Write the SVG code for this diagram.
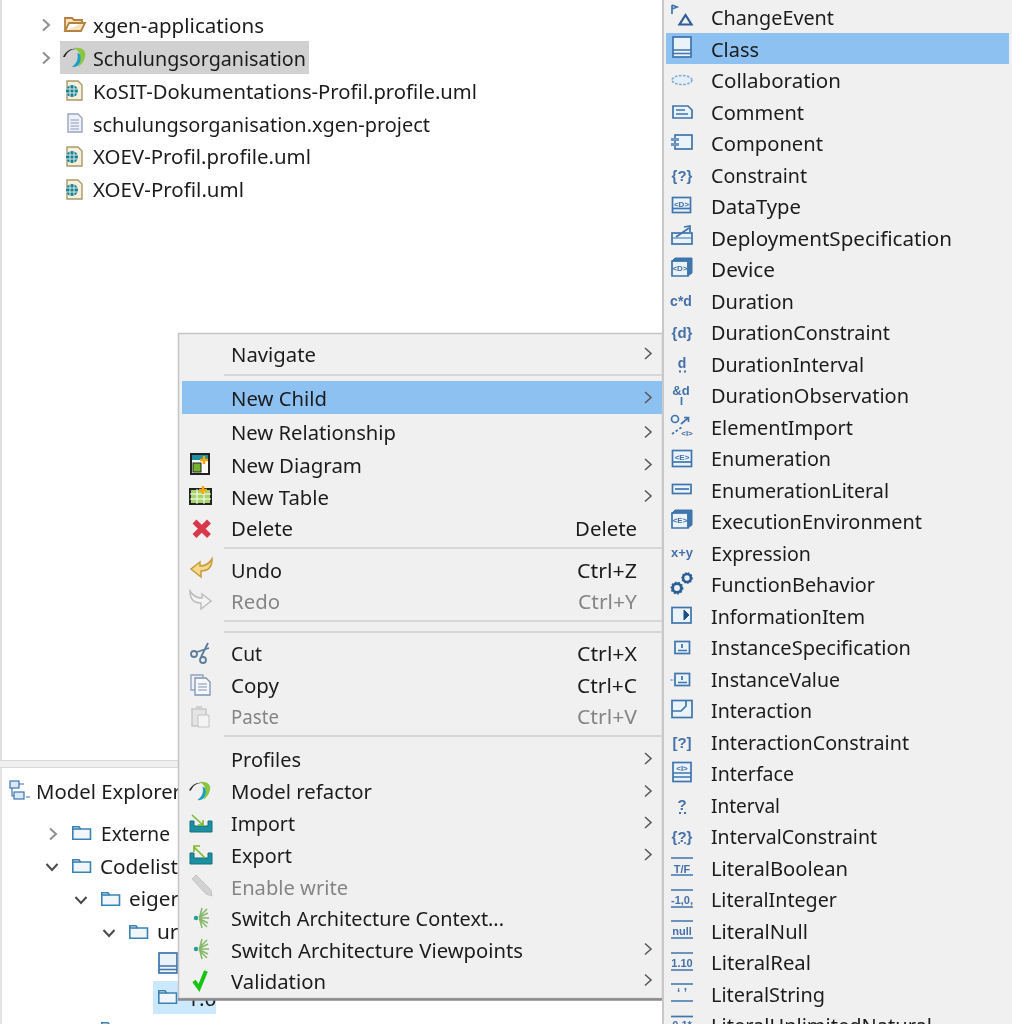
<svg xmlns="http://www.w3.org/2000/svg" width="1012" height="1024" viewBox="0 0 1012 1024">
<style>
text{font-family:"Noto Sans","Open Sans","Liberation Sans",sans-serif;font-size:20.8px;fill:#1c1c1c}
.d{fill:#858585}
.chev{fill:none;stroke:#5a5a5a;stroke-width:1.6}
.tc{fill:none;stroke:#8f8f8f;stroke-width:2}
.td{fill:none;stroke:#4a4a4a;stroke-width:2}
.sep{stroke:#d6d6d6;stroke-width:2}
.ic{fill:#eaf2fa;stroke:#3f74ad;stroke-width:1.7}
.il{fill:none;stroke:#3f74ad;stroke-width:1.7}
.g{font-family:"Liberation Sans",sans-serif;font-weight:700;fill:#456fa8;text-anchor:middle}
.f{fill:#f0f6fb;stroke:#3a82b4;stroke-width:1.6}
</style>
<defs>
<path id="cr" class="chev" d="M-3-5.5 3 0-3 5.5"/>
<g id="folder"><path class="f" d="M.8 13.2V.8H7L8.5 3H18.5V13.2Z"/><path class="f" d="M.8 3H8.5"/></g>
<g id="umlf"><path d="M1 1H12L16 5V20H1Z" fill="#f5efdc" stroke="#a89a6c" stroke-width="1.4"/><circle cx="6" cy="11" r="6" fill="#1d7f8c"/><path d="M0 9H12M0 13H12M4 5V17M8 5V17" stroke="#d6ecec" stroke-width="1"/></g>
<g id="swirl"><path d="M0 9C3 3 8 0 13 1C8 1 4 4 2 9Z" fill="#222"/><path d="M14 5C16 10 14 15 9 19C15 20 19 14 19 7Z" fill="#1e9fc4"/><path d="M11 0C18-1 24 2 22 9C21 13 19 16 15 19C19 12 19 4 11 0Z" fill="#8cc63f"/></g>
<g id="cls"><rect class="ic" x="-9" y="-11" width="18" height="20"/><path class="il" d="M-9 2H9M-9 5.5H9"/></g>
<g id="box3"><path class="ic" d="M-10-8H6V7H-10Z"/><path d="M-10-8-7-11H10V4L6 7V-8Z" fill="#3f74ad" stroke="#3f74ad"/></g>
<g id="lit"><path class="il" d="M-11-9H11M-11 8H11"/></g>
<g id="gear"><circle r="4.6" fill="none" stroke="#2b5f95" stroke-width="3"/><circle r="6" fill="none" stroke="#2b5f95" stroke-width="1.6" stroke-dasharray="1.8 1.8"/></g>
<g id="spark"><circle cx="-5" cy="0" r="2.2" fill="#2a9a9a"/><path d="M-2-1 6-9M-2-.5 7-5M-2 0H8M-2 .5 7 5M-2 1 6 9M-1-2 1-10M-1 2 1 10" stroke="#86b96a" stroke-width="1.6"/></g>
<g id="tray"><path d="M-11-5V6H11V-5H7V0H-7V-5Z" fill="#1c8fa0" stroke="#12707e" stroke-width="1"/></g>
<filter id="soft" x="0" y="0" width="1" height="1"><feGaussianBlur stdDeviation="0.35"/></filter>
</defs>
<rect width="1012" height="1024" fill="#fff"/>
<g filter="url(#soft)">
<g id="project-tree">
<rect x="0" y="0" width="2" height="760" fill="#e0e0e0"/>
<rect x="60" y="41" width="249" height="33" fill="#d1d1d1"/>
<path class="tc" transform="translate(46 25)" d="M-3-5.5 3 0-3 5.500"/>
<path class="tc" transform="translate(46 58)" d="M-3-5.5 3 0-3 5.500"/>
<g id="tree-xgen"><path d="M65 31V18H72L74 20H82V23H69L65 31H81L85 23H82" fill="#f6e3bf" stroke="#b5813c" stroke-width="1.8"/><text x="93" y="32.500" textLength="171" lengthAdjust="spacingAndGlyphs">xgen-applications</text></g>
<g id="tree-schulung"><use href="#swirl" x="63" y="48"/><text x="93" y="65.500" textLength="213" lengthAdjust="spacingAndGlyphs">Schulungsorganisation</text></g>
<g id="tree-kosit"><use href="#umlf" x="66" y="80"/><text x="93" y="98.500" textLength="384" lengthAdjust="spacingAndGlyphs">KoSIT-Dokumentations-Profil.profile.uml</text></g>
<g id="tree-project"><path d="M68 114H78L82 118V132H68Z" fill="#eef1f8" stroke="#9aa6c0" stroke-width="1.400"/><path d="M70.500 120H79M70.500 123H79M70.500 126H79M70.500 129H79" stroke="#8a9ac0"/><text x="93" y="131.500" textLength="337" lengthAdjust="spacingAndGlyphs">schulungsorganisation.xgen-project</text></g>
<g id="tree-xoev-profile"><use href="#umlf" x="66" y="146"/><text x="93" y="164" textLength="218" lengthAdjust="spacingAndGlyphs">XOEV-Profil.profile.uml</text></g>
<g id="tree-xoev"><use href="#umlf" x="66" y="179"/><text x="93" y="197" textLength="151" lengthAdjust="spacingAndGlyphs">XOEV-Profil.uml</text></g>
</g>
<g id="model-explorer">
<rect x="0" y="760" width="662" height="8" fill="#f0f0f0"/>
<path d="M0 760.500H662M0 767.500H662" stroke="#d8d8d8"/>
<rect x="0" y="768" width="2" height="256" fill="#e4e4e4"/>
<g fill="#dbe8f5" stroke="#3f74ad" stroke-width="1.200"><rect x="10" y="781" width="9" height="7"/><rect x="14" y="792" width="10" height="7"/><path d="M12 788V796H14M19 784H24M26 797H30" fill="none"/></g>
<text x="36" y="799" textLength="145" lengthAdjust="spacingAndGlyphs">Model Explorer</text>
<path class="tc" transform="translate(53 834)" d="M-3-5.500 3 0-3 5.500"/>
<use href="#folder" x="72" y="826"/><text x="101" y="841" textLength="69" lengthAdjust="spacingAndGlyphs">Externe</text>
<path class="td" transform="translate(52 867)" d="M-5.500-3 0 3 5.500-3"/>
<use href="#folder" x="72" y="859"/><text x="100" y="874" textLength="78" lengthAdjust="spacingAndGlyphs">Codelist</text>
<path class="td" transform="translate(81 900)" d="M-5.500-3 0 3 5.500-3"/>
<use href="#folder" x="101" y="892"/><text x="129" y="906" textLength="50" lengthAdjust="spacingAndGlyphs">eiger</text>
<path class="td" transform="translate(109 933)" d="M-5.500-3 0 3 5.500-3"/>
<use href="#folder" x="129" y="925"/><text x="157" y="939">ur</text>
<use href="#cls" x="168" y="964"/>
<rect x="153" y="981" width="63" height="33" fill="#cce8ff"/>
<use href="#folder" x="158" y="990"/><text x="187" y="1006">1.0</text>
<use href="#folder" x="101" y="1022"/>
</g>
<g id="context-menu">
<rect x="178.500" y="333.500" width="484" height="665" fill="#f0f0f0" stroke="#c4c4c4" stroke-width="1.500"/>
<path d="M178 999.500H662" stroke="#8a8a8a" stroke-width="2.500"/>
<rect x="182" y="381" width="480" height="33" fill="#8cc1f2"/>
<path class="sep" d="M224 375H662M224 548H662M224 621H662M224 632H662M224 736H662"/>
<g id="m-navigate"><text x="231" y="362" textLength="85" lengthAdjust="spacingAndGlyphs">Navigate</text><use href="#cr" x="648" y="353.500"/></g>
<g id="m-new-child"><text x="231" y="406" textLength="96" lengthAdjust="spacingAndGlyphs">New Child</text><use href="#cr" x="648" y="397.500"/></g>
<g id="m-new-relationship"><text x="231" y="440" textLength="165" lengthAdjust="spacingAndGlyphs">New Relationship</text><use href="#cr" x="648" y="432"/></g>
<g id="m-new-diagram"><rect x="191" y="454" width="18" height="20" fill="#fff" stroke="#222" stroke-width="2"/><rect x="192" y="455" width="16" height="5" fill="#1c8fa0"/><rect x="193" y="463" width="8" height="9" fill="#6fb52c" stroke="#222"/><path d="M204 456V464M200 460H208" stroke="#f5a800" stroke-width="2.500"/><text x="231" y="473" textLength="131" lengthAdjust="spacingAndGlyphs">New Diagram</text><use href="#cr" x="648" y="464.500"/></g>
<g id="m-new-table"><rect x="190" y="489" width="21" height="15" fill="#a6d36a" stroke="#222" stroke-width="2"/><path d="M190 494H211M190 499H211M197 489V504M204 489V504" stroke="#fff"/><path d="M203 486V494M199 490H207" stroke="#f5a800" stroke-width="2.500"/><text x="231" y="505" textLength="98" lengthAdjust="spacingAndGlyphs">New Table</text><use href="#cr" x="648" y="496"/></g>
<g id="m-delete"><path d="M194.500 521.500 209 536M209 521.500 194.500 536" stroke="#d8394a" stroke-width="5.500"/><text x="231" y="536" textLength="62" lengthAdjust="spacingAndGlyphs">Delete</text><text x="575" y="536" textLength="62" lengthAdjust="spacingAndGlyphs">Delete</text></g>
<g id="m-undo"><path d="M212 559C212 567 208 571 201 571V577L191 569 200 562V566C205 566 209 564 212 559Z" fill="#f5d98a" stroke="#c79a3a" stroke-width="1.500"/><text x="231" y="578" textLength="51" lengthAdjust="spacingAndGlyphs">Undo</text><text x="577" y="578" textLength="60" lengthAdjust="spacingAndGlyphs">Ctrl+Z</text></g>
<g id="m-redo"><path d="M190 591C190 599 194 603 201 603V609L211 601 202 594V598C197 598 193 596 190 591Z" fill="#f4f4f4" stroke="#bdbdbd" stroke-width="1.500"/><text class="d" x="231" y="609" textLength="49" lengthAdjust="spacingAndGlyphs">Redo</text><text class="d" x="578" y="609" textLength="59" lengthAdjust="spacingAndGlyphs">Ctrl+Y</text></g>
<g id="m-cut"><circle cx="194" cy="654" r="3" fill="none" stroke="#5c7c9c" stroke-width="1.800"/><circle cx="203" cy="660" r="3" fill="none" stroke="#5c7c9c" stroke-width="1.800"/><path d="M197 652 209 648M201 657 208 643" stroke="#5c7c9c" stroke-width="1.800"/><text x="231" y="661" textLength="31" lengthAdjust="spacingAndGlyphs">Cut</text><text x="577" y="661" textLength="60" lengthAdjust="spacingAndGlyphs">Ctrl+X</text></g>
<g id="m-copy"><path d="M191 675H203V690H191Z" fill="#eef1f8" stroke="#8fa0bd" stroke-width="1.300"/><path d="M195 678H206L210 682V695H195Z" fill="#f6f8fc" stroke="#7f93b5" stroke-width="1.300"/><path d="M198 684H207M198 687H207M198 690H207" stroke="#7f93b5"/><text x="231" y="693" textLength="48" lengthAdjust="spacingAndGlyphs">Copy</text><text x="577" y="693" textLength="60" lengthAdjust="spacingAndGlyphs">Ctrl+C</text></g>
<g id="m-paste"><rect x="192" y="709" width="14" height="17" fill="#e4e4e4" stroke="#c2c2c2" stroke-width="1.300"/><rect x="196" y="706" width="6" height="4" fill="#cfcfcf"/><path d="M198 715H209V727H198Z" fill="#f4f4f4" stroke="#c2c2c2"/><text class="d" x="231" y="724" textLength="48" lengthAdjust="spacingAndGlyphs">Paste</text><text class="d" x="577" y="724" textLength="60" lengthAdjust="spacingAndGlyphs">Ctrl+V</text></g>
<g id="m-profiles"><text x="231" y="767" textLength="70" lengthAdjust="spacingAndGlyphs">Profiles</text><use href="#cr" x="648" y="758.500"/></g>
<g id="m-refactor"><use href="#swirl" transform="translate(189 782) scale(.95)"/><text x="231" y="799" textLength="141" lengthAdjust="spacingAndGlyphs">Model refactor</text><use href="#cr" x="648" y="791"/></g>
<g id="m-import"><use href="#tray" x="201" y="826"/><path d="M192 815 203 825M203 820V825H198" fill="none" stroke="#7cb82f" stroke-width="1.600"/><text x="231" y="831" textLength="64" lengthAdjust="spacingAndGlyphs">Import</text><use href="#cr" x="648" y="822.500"/></g>
<g id="m-export"><use href="#tray" x="201" y="858"/><path d="M205 858 194 847M194 852V846H200" fill="none" stroke="#7cb82f" stroke-width="1.600"/><text x="231" y="863" textLength="61" lengthAdjust="spacingAndGlyphs">Export</text><use href="#cr" x="648" y="854.500"/></g>
<g id="m-write"><path d="M192 879 196 875 211 890 212 896 206 894Z" fill="#d2d2d2" stroke="#c4c4c4"/><text class="d" x="231" y="895" textLength="117" lengthAdjust="spacingAndGlyphs">Enable write</text></g>
<g id="m-context"><use href="#spark" x="201" y="918"/><text x="231" y="926" textLength="273" lengthAdjust="spacingAndGlyphs">Switch Architecture Context...</text></g>
<g id="m-viewpoints"><use href="#spark" x="201" y="949"/><text x="231" y="958" textLength="292" lengthAdjust="spacingAndGlyphs">Switch Architecture Viewpoints</text><use href="#cr" x="648" y="949"/></g>
<g id="m-validation"><path d="M194 981 199 988 206 971" fill="none" stroke="#14c414" stroke-width="4"/><text x="231" y="989" textLength="95" lengthAdjust="spacingAndGlyphs">Validation</text><use href="#cr" x="648" y="980"/></g>
</g>
<g id="submenu">
<rect x="663" y="-2" width="351" height="1030" fill="#f0f0f0"/>
<path d="M663 0V1024" stroke="#c8c8c8" stroke-width="2"/>
<rect x="666" y="33" width="343" height="31" fill="#8cc1f2"/>
<g id="s-changeevent"><path class="il" d="M672 5V14M672 5 677 7 672 9"/><path d="M685.500 15 679.500 24.500H691.500Z" fill="none" stroke="#2f5f96" stroke-width="2.200"/><text x="711" y="25" textLength="123" lengthAdjust="spacingAndGlyphs">ChangeEvent</text></g>
<g id="s-class"><use href="#cls" x="682" y="48"/><text x="711" y="56.500" textLength="48" lengthAdjust="spacingAndGlyphs">Class</text></g>
<g id="s-collaboration"><ellipse cx="682" cy="80" rx="10" ry="4.500" fill="#e4eef8" stroke="#7fa8d0" stroke-width="1.600" stroke-dasharray="2.500 1.500"/><text x="711" y="88" textLength="130" lengthAdjust="spacingAndGlyphs">Collaboration</text></g>
<g id="s-comment"><path class="ic" d="M673 106H688L692 110V118H673Z"/><path class="il" d="M676 110H685M676 114H688" stroke-width="1.300"/><text x="711" y="119.500" textLength="93" lengthAdjust="spacingAndGlyphs">Comment</text></g>
<g id="s-component"><rect class="ic" x="675" y="135" width="17" height="14"/><rect x="671" y="138" width="8" height="3" fill="#6f97c4"/><rect x="671" y="143" width="8" height="3" fill="#6f97c4"/><text x="711" y="151" textLength="112" lengthAdjust="spacingAndGlyphs">Component</text></g>
<g id="s-constraint"><text class="g" x="682" y="181" style="font-size:15px">{?}</text><text x="711" y="182.500" textLength="96" lengthAdjust="spacingAndGlyphs">Constraint</text></g>
<g id="s-datatype"><rect class="ic" x="672.500" y="197.500" width="18" height="15"/><path class="il" d="M672.500 208.500H690.500" stroke-width="1.200"/><text class="g" x="681.500" y="206.500" style="font-size:8px">&lt;D&gt;</text><text x="711" y="214" textLength="90" lengthAdjust="spacingAndGlyphs">DataType</text></g>
<g id="s-deployment"><rect class="ic" x="672" y="233" width="20" height="11"/><path class="il" d="M676 237 689 228M684 227 690 226 690 232"/><path d="M672 238H692" stroke="#3f74ad"/><text x="711" y="245.500" textLength="241" lengthAdjust="spacingAndGlyphs">DeploymentSpecification</text></g>
<g id="s-device"><use href="#box3" x="682" y="269"/><text class="g" x="680" y="271" style="font-size:8px">&lt;D&gt;</text><text x="711" y="277" textLength="64" lengthAdjust="spacingAndGlyphs">Device</text></g>
<g id="s-duration"><text class="g" x="681" y="306" style="font-size:14px">c*d</text><text x="711" y="308.500" textLength="83" lengthAdjust="spacingAndGlyphs">Duration</text></g>
<g id="s-durationconstraint"><text class="g" x="682" y="338" style="font-size:15px">{d}</text><text x="711" y="340" textLength="179" lengthAdjust="spacingAndGlyphs">DurationConstraint</text></g>
<g id="s-durationinterval"><text class="g" x="682" y="368" style="font-size:14px">d</text><path d="M679 371.500H681M684 371.500H686" stroke="#456fa8" stroke-width="2"/><text x="711" y="371.500" textLength="153" lengthAdjust="spacingAndGlyphs">DurationInterval</text></g>
<g id="s-durationobs"><text class="g" x="681" y="395" style="font-size:13px">&amp;d</text><path class="il" d="M681.500 397V405" stroke-width="2"/><text x="711" y="403" textLength="198" lengthAdjust="spacingAndGlyphs">DurationObservation</text></g>
<g id="s-elementimport"><circle cx="675" cy="419" r="3.500" class="ic"/><path class="il" d="M681 424 688 418M684 417.500H688.500V422"/><path d="M672 434 682 427" stroke="#3f74ad" stroke-width="1.800" stroke-dasharray="2.500 2"/><text class="g" x="687" y="436" style="font-size:8px">&lt;I&gt;</text><text x="711" y="434.500" textLength="142" lengthAdjust="spacingAndGlyphs">ElementImport</text></g>
<g id="s-enumeration"><rect class="ic" x="672.500" y="450.500" width="19" height="16"/><path class="il" d="M672.500 462H691.500" stroke-width="1.200"/><text class="g" x="682" y="459.500" style="font-size:8px">&lt;E&gt;</text><text x="711" y="466" textLength="120" lengthAdjust="spacingAndGlyphs">Enumeration</text></g>
<g id="s-enumliteral"><rect class="ic" x="672.500" y="484.500" width="18.500" height="9"/><path class="il" d="M675 489H689"/><text x="711" y="497.500" textLength="178" lengthAdjust="spacingAndGlyphs">EnumerationLiteral</text></g>
<g id="s-execenv"><use href="#box3" x="682" y="521"/><text class="g" x="680" y="523" style="font-size:8px">&lt;E&gt;</text><text x="711" y="529" textLength="211" lengthAdjust="spacingAndGlyphs">ExecutionEnvironment</text></g>
<g id="s-expression"><text class="g" x="682" y="557" style="font-size:13px">x+y</text><text x="711" y="560.500" textLength="100" lengthAdjust="spacingAndGlyphs">Expression</text></g>
<g id="s-function"><use href="#gear" transform="translate(677 588) scale(.95)"/><use href="#gear" transform="translate(687 578) scale(.85)"/><text x="711" y="592" textLength="164" lengthAdjust="spacingAndGlyphs">FunctionBehavior</text></g>
<g id="s-information"><rect class="ic" x="672" y="607.500" width="19" height="15.500"/><path d="M684 610 689 615 684 620Z" fill="#1f4f85" stroke="#1f4f85"/><text x="711" y="623.500" textLength="154" lengthAdjust="spacingAndGlyphs">InformationItem</text></g>
<g id="s-instancespec"><rect class="ic" x="675" y="641.500" width="14.500" height="12"/><path class="il" d="M682 644V648M678 650.500H687" stroke-width="1.300"/><text x="711" y="655" textLength="200" lengthAdjust="spacingAndGlyphs">InstanceSpecification</text></g>
<g id="s-instancevalue"><rect class="ic" x="675" y="673.500" width="14.500" height="12"/><path class="il" d="M682 676V680M678 682.500H687" stroke-width="1.300"/><path d="M670.500 680H674" stroke="#3f74ad" stroke-dasharray="2 1"/><text x="711" y="686.500" textLength="129" lengthAdjust="spacingAndGlyphs">InstanceValue</text></g>
<g id="s-interaction"><rect class="ic" x="672" y="700.500" width="20" height="17"/><path class="il" d="M672 711H681L686 706V700.500" stroke-width="1.400"/><text x="711" y="718" textLength="101" lengthAdjust="spacingAndGlyphs">Interaction</text></g>
<g id="s-interactionconstraint"><text class="g" x="682" y="748" style="font-size:15px">[?]</text><text x="711" y="749.500" textLength="198" lengthAdjust="spacingAndGlyphs">InteractionConstraint</text></g>
<g id="s-interface"><rect class="ic" x="673" y="762.500" width="18" height="19"/><path class="il" d="M673 773H691M673 777H691" stroke-width="1.200"/><text class="g" x="682" y="771" style="font-size:8px">&lt;I&gt;</text><text x="711" y="781" textLength="83" lengthAdjust="spacingAndGlyphs">Interface</text></g>
<g id="s-interval"><text class="g" x="682" y="810" style="font-size:15px">?</text><path d="M679 813H681M684 813H686" stroke="#456fa8" stroke-width="2"/><text x="711" y="812.500" textLength="69" lengthAdjust="spacingAndGlyphs">Interval</text></g>
<g id="s-intervalconstraint"><text class="g" x="682" y="842" style="font-size:15px">{?}</text><path d="M678 843H680M684 843H686" stroke="#456fa8" stroke-width="1.500"/><text x="711" y="844" textLength="166" lengthAdjust="spacingAndGlyphs">IntervalConstraint</text></g>
<g id="s-literalboolean"><use href="#lit" x="682" y="867"/><text class="g" x="682" y="872.500" style="font-size:11px">T/F</text><text x="711" y="875.500" textLength="137" lengthAdjust="spacingAndGlyphs">LiteralBoolean</text></g>
<g id="s-literalinteger"><use href="#lit" x="682" y="899"/><text class="g" x="682" y="903.500" style="font-size:11px">-1,0,</text><text x="711" y="907" textLength="126" lengthAdjust="spacingAndGlyphs">LiteralInteger</text></g>
<g id="s-literalnull"><use href="#lit" x="682" y="930"/><text class="g" x="682" y="935" style="font-size:11px">null</text><text x="711" y="938.500" textLength="97" lengthAdjust="spacingAndGlyphs">LiteralNull</text></g>
<g id="s-literalreal"><use href="#lit" x="682" y="962"/><text class="g" x="682" y="967" style="font-size:11px">1.10</text><text x="711" y="970" textLength="100" lengthAdjust="spacingAndGlyphs">LiteralReal</text></g>
<g id="s-literalstring"><use href="#lit" x="682" y="993"/><text class="g" x="682" y="997" style="font-size:12px">‘ ’</text><text x="711" y="1001.500" textLength="114" lengthAdjust="spacingAndGlyphs">LiteralString</text></g>
<g id="s-literalunlimited"><path class="il" d="M671 1016.500H693"/><text class="g" x="682" y="1029" style="font-size:11px">0.1*</text><text x="711" y="1033" textLength="221" lengthAdjust="spacingAndGlyphs">LiteralUnlimitedNatural</text></g>
</g>
</g>
</svg>
